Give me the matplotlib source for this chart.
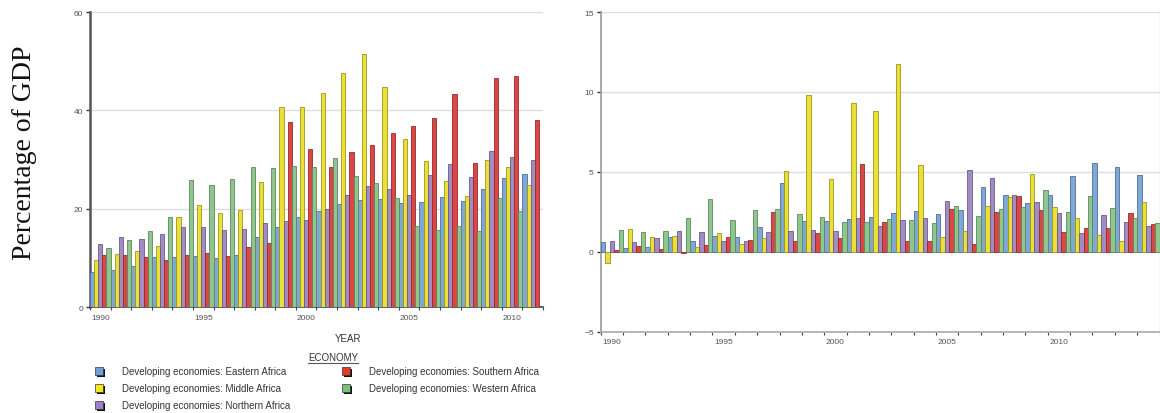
"""Net FDI inflows for African sub-regions, two bar panels."""
import numpy as np
from matplotlib import pyplot as pl
import matplotlib as mpl
from matplotlib.patches import Rectangle
from matplotlib.lines import Line2D

mpl.rcParams["font.family"] = "sans-serif"
mpl.rcParams["font.sans-serif"] = ["Liberation Sans", "DejaVu Sans"]
mpl.rcParams["text.color"] = "333333"
mpl.rcParams["xtick.color"] = "555555"
mpl.rcParams["ytick.color"] = "555555"

# ---- data -------------------------------------------------------------
economies = ["Developing economies: Eastern Africa",
             "Developing economies: Middle Africa",
             "Developing economies: Northern Africa",
             "Developing economies: Southern Africa",
             "Developing economies: Western Africa"]

years_left = np.arange(1990, 2012)
eastern_l = [7.2, 7.5, 8.4, 10.2, 10.2, 10.4, 10.1, 10.7, 14.2, 16.3, 18.4,
             19.6, 20.9, 21.9, 22.1, 21.2, 21.3, 22.5, 21.5, 24.1, 26.2, 27.1]
middle_l = [9.6, 10.9, 11.5, 12.5, 18.4, 20.7, 19.1, 19.8, 25.5, 40.6, 40.7,
            43.6, 47.7, 51.4, 44.8, 34.1, 29.7, 25.7, 22.6, 29.9, 28.6, 24.8]
northern_l = [12.9, 14.2, 13.9, 14.9, 16.4, 16.3, 15.7, 16.0, 17.2, 17.5, 17.7,
              19.9, 22.8, 24.7, 24.1, 22.8, 26.9, 29.2, 26.5, 31.8, 30.6, 29.9]
southern_l = [10.6, 10.6, 10.2, 9.6, 10.6, 11.1, 10.4, 12.3, 13.0, 37.7, 32.1,
              28.5, 31.6, 33.0, 35.5, 36.8, 38.4, 43.3, 29.3, 46.5, 46.9, 38.0]
western_l = [12.1, 13.6, 15.6, 18.3, 25.8, 24.9, 26.0, 28.5, 28.4, 28.7, 28.5,
             30.3, 26.7, 25.2, 22.2, 16.5, 15.8, 16.5, 15.6, 22.2, 19.6, np.nan]

years_right = np.arange(1990, 2015)
eastern_r = [0.62, 0.21, 0.27, 0.94, 0.65, 1.0, 0.94, 1.56, 4.27, 1.94, 1.92,
             2.06, 2.17, 2.4, 2.52, 2.38, 2.58, 4.02, 3.56, 3.02, 3.52, 4.73,
             5.54, 5.27, 4.77]
middle_r = [-0.71, 1.40, 0.90, 1.0, 0.31, 1.15, 0.48, 0.84, 5.06, 9.83, 4.52,
            9.29, 8.79, 11.73, 5.4, 0.92, 1.29, 2.88, 3.42, 4.88, 2.77, 2.08,
            1.02, 0.69, 3.13]
northern_r = [0.65, 0.58, 0.85, 1.29, 1.23, 0.65, 0.66, 1.23, 1.28, 1.36, 1.29,
              2.13, 1.58, 1.98, 2.08, 3.17, 5.08, 4.6, 3.56, 3.08, 2.4, 1.15,
              2.27, 1.88, 1.63]
southern_r = [0.12, 0.35, 0.19, -0.08, 0.42, 0.94, 0.71, 2.47, 0.65, 1.19, 0.88,
              5.48, 1.83, 0.69, 0.65, 2.65, 0.48, 2.48, 3.5, 2.58, 1.23, 1.5,
              1.5, 2.44, 1.73]
western_r = [1.35, 1.25, 1.29, 2.08, 3.31, 1.96, 2.58, 2.68, 2.38, 2.19, 1.85,
             1.83, 2.04, 2.0, 1.79, 2.88, 2.21, 2.65, 2.79, 3.88, 2.5, 3.5,
             2.73, 2.13, 1.79]

year_ticks = [1990, 1995, 2000, 2005, 2010]

# ---- styling ----------------------------------------------------------
faces = ["#80a8d6", "#ebe136", "#a28dc3", "#db4646", "#90c590"]
edges = ["#4d6f99", "#9c9420", "#6a5a8a", "#962a2a", "#5a8a5a"]
legend_colors = ["#6d9fd9", "#f6ea1e", "#9a80c6", "#e8392a", "#79c479"]

W, H = 1160, 414


def fx(px):
    return px / W


def fy(py):
    return 1 - py / H


def draw_bars(ax, years, series):
    n = len(series)
    w = 1.0 / n
    for i, vals in enumerate(series):
        ax.bar(years + (i - (n - 1) / 2) * w, vals, width=w,
               color=faces[i], edgecolor=edges[i], linewidth=0.6, zorder=3)


def style_axis(ax, years, yticks):
    ax.set_xlim(years[0] - 0.5, years[-1] + 0.5)
    ax.set_ylim(yticks[0], yticks[-1])
    ax.set_xticks(year_ticks)
    ax.set_xticks(np.arange(years[0] - 0.5, years[-1] + 1.0, 1.0), minor=True)
    ax.set_yticks(yticks)
    ax.tick_params(axis="x", which="major", length=0, labelsize=6, pad=5)
    ax.tick_params(axis="x", which="minor", length=2, width=0.8,
                   color="#444444")
    ax.tick_params(axis="y", length=3, width=1, color="#333333",
                   labelsize=6, pad=2)
    ax.yaxis.grid(True, color="#dddddd", linewidth=1, zorder=0)
    ax.set_axisbelow(True)
    ax.spines["top"].set_visible(False)


fig = pl.figure(figsize=(W / 100, H / 100), dpi=100)

# Left panel
ax1 = fig.add_axes([fx(90), fy(308.3), (543 - 90) / W, (308.3 - 13) / H])
draw_bars(ax1, years_left,
          [eastern_l, middle_l, northern_l, southern_l, western_l])
style_axis(ax1, years_left, [0, 20, 40, 60])
ax1.spines["right"].set_visible(False)
ax1.spines["left"].set_color("#555555")
ax1.spines["left"].set_linewidth(1.8)
ax1.spines["bottom"].set_color("#444444")
ax1.spines["bottom"].set_linewidth(1.2)

# Right panel
ax2 = fig.add_axes([fx(600.7), fy(332.5), (1159.5 - 600.7) / W,
                    (332.5 - 13) / H])
draw_bars(ax2, years_right,
          [eastern_r, middle_r, northern_r, southern_r, western_r])
style_axis(ax2, years_right, [-5, 0, 5, 10, 15])
ax2.spines["left"].set_color("#999999")
ax2.spines["left"].set_linewidth(1.2)
ax2.spines["bottom"].set_color("#aaaaaa")
ax2.spines["bottom"].set_linewidth(1.2)
ax2.spines["right"].set_color("#cccccc")
ax2.spines["right"].set_linewidth(1.0)

# Texts
fig.text(fx(25), fy(153), "Percentage of GDP", rotation=90, ha="center",
         va="center", fontsize=20, family="Liberation Serif", color="#111111")
fig.text(fx(348), fy(339), "YEAR", ha="center", va="center", fontsize=7,
         color="#333333")
fig.text(fx(333), fy(358.5), "ECONOMY", ha="center", va="center",
         fontsize=7, color="#333333")
fig.add_artist(Line2D([fx(308), fx(358)], [fy(363.5), fy(363.5)],
                      color="#555555", linewidth=0.8,
                      transform=fig.transFigure))

# Legend: hand-placed two column layout
slots = [(95, 372), (95, 389), (95, 406), (342, 372), (342, 389)]
for label, col, (mx, my) in zip(economies, legend_colors, slots):
    fig.add_artist(Rectangle((fx(mx + 2), fy(my + 6)), 8 / W, 8 / H,
                             facecolor="#111111", edgecolor="none",
                             transform=fig.transFigure))
    fig.add_artist(Rectangle((fx(mx), fy(my + 4)), 8 / W, 8 / H,
                             facecolor=col, edgecolor="#333333",
                             linewidth=0.5, transform=fig.transFigure))
    fig.text(fx(mx + 27), fy(my), label, ha="left", va="center",
             fontsize=7, color="#333333")

pl.savefig("out.png", dpi=100)
pl.close()
